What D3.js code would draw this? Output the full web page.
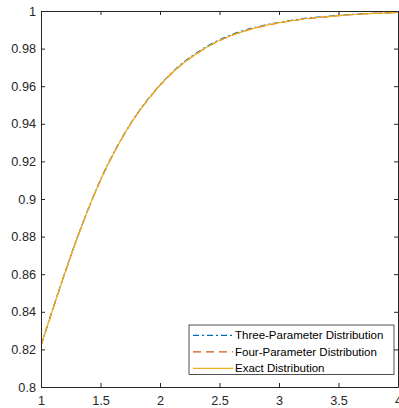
<!DOCTYPE html>
<html>
<head>
<meta charset="utf-8">
<script src="https://cdn.jsdelivr.net/npm/d3@7"></script>
<style>
  html, body { margin: 0; padding: 0; background: #fff; }
  svg { display: block; }
</style>
</head>
<body>
<svg id="chart" width="399" height="408"></svg>
<script>
// ---- data ----
const xValues = [1.0,1.1,1.2,1.3,1.4,1.5,1.6,1.7,1.8,1.9,2.0,2.1,2.2,2.3,2.4,2.5,2.6,2.7,2.8,2.9,3.0,3.1,3.2,3.3,3.4,3.5,3.6,3.7,3.8,3.9,4.0];
const threeParam = [0.8222,0.8417,0.8607,0.8787,0.8952,0.9103,0.9233,0.9347,0.9447,0.9532,0.9607,0.9672,0.9728,0.9774,0.9814,0.9847,0.9874,0.9896,0.9913,0.9928,0.9940,0.9950,0.9959,0.9966,0.9972,0.9977,0.9981,0.9985,0.9988,0.9990,0.9992];
const fourParam  = [0.8219,0.8414,0.8604,0.8784,0.8949,0.9099,0.9229,0.9344,0.9444,0.9529,0.9604,0.9669,0.9724,0.9769,0.9809,0.9842,0.9869,0.9891,0.9909,0.9924,0.9937,0.9947,0.9956,0.9963,0.9969,0.9975,0.9980,0.9984,0.9987,0.9990,0.9992];
const exactDist  = [0.8220,0.8415,0.8605,0.8785,0.8950,0.9100,0.9230,0.9345,0.9445,0.9530,0.9605,0.9670,0.9725,0.9770,0.9810,0.9843,0.9870,0.9892,0.9910,0.9925,0.9938,0.9948,0.9957,0.9964,0.9970,0.9975,0.9980,0.9984,0.9987,0.9990,0.9992];
const seriesNames = ["Three-Parameter Distribution", "Four-Parameter Distribution", "Exact Distribution"];
const xTicks = [1, 1.5, 2, 2.5, 3, 3.5, 4];
const xTickLabels = ["1", "1.5", "2", "2.5", "3", "3.5", "4"];
const yTicks = [0.8, 0.82, 0.84, 0.86, 0.88, 0.9, 0.92, 0.94, 0.96, 0.98, 1];
const yTickLabels = ["0.8", "0.82", "0.84", "0.86", "0.88", "0.9", "0.92", "0.94", "0.96", "0.98", "1"];

// ---- layout ----
const W = 399, H = 408;
const margin = { left: 41, top: 11, right: 1, bottom: 21 };
const iw = W - margin.left - margin.right;
const ih = H - margin.top - margin.bottom;
const axisColor = "#262626";
const font = "'Liberation Sans', Arial, Helvetica, sans-serif";

const svg = d3.select("#chart");
const g = svg.append("g").attr("transform", `translate(${margin.left},${margin.top})`);

const x = d3.scaleLinear().domain([1, 4]).range([0, iw]);
const y = d3.scaleLinear().domain([0.8, 1]).range([ih, 0]);

const series = [
  { name: seriesNames[0], values: threeParam, color: "#0072BD", dash: "6,3,2,3" },
  { name: seriesNames[1], values: fourParam,  color: "#D95319", dash: "8,5" },
  { name: seriesNames[2], values: exactDist,  color: "#EDB120", dash: null }
];

// ---- lines ----
const line = d3.line().x((d, i) => x(xValues[i])).y(d => y(d)).curve(d3.curveMonotoneX);
g.append("defs").append("clipPath").attr("id", "clip")
  .append("rect").attr("x", 0).attr("y", -2).attr("width", iw).attr("height", ih + 2);
const lg = g.append("g").attr("clip-path", "url(#clip)");
series.forEach(s => {
  lg.append("path")
    .attr("d", line(s.values))
    .attr("fill", "none")
    .attr("stroke", s.color)
    .attr("stroke-width", 1.2)
    .attr("stroke-dasharray", s.dash);
});

// ---- axes ----
function styleAxis(sel, showLabels) {
  sel.select(".domain").attr("stroke", axisColor).attr("stroke-width", 1);
  sel.selectAll(".tick line").attr("stroke", axisColor).attr("stroke-width", 1);
  sel.selectAll(".tick text")
    .attr("fill", axisColor)
    .style("font-family", font)
    .style("font-size", "12.7px");
  if (!showLabels) sel.selectAll(".tick text").remove();
}

const xAxisB = d3.axisBottom(x).tickValues(xTicks).tickFormat((d, i) => xTickLabels[i])
  .tickSizeInner(-4).tickSizeOuter(0).tickPadding(9);
const xAxisT = d3.axisTop(x).tickValues(xTicks).tickFormat("")
  .tickSizeInner(-4).tickSizeOuter(0);
const yAxisL = d3.axisLeft(y).tickValues(yTicks).tickFormat((d, i) => yTickLabels[i])
  .tickSizeInner(-4).tickSizeOuter(0).tickPadding(5);
const yAxisR = d3.axisRight(y).tickValues(yTicks).tickFormat("")
  .tickSizeInner(-4).tickSizeOuter(0);

g.append("g").attr("transform", `translate(0,${ih})`).call(xAxisB).call(s => styleAxis(s, true));
g.append("g").call(xAxisT).call(s => styleAxis(s, false));
g.append("g").call(yAxisL).call(s => styleAxis(s, true));
g.append("g").attr("transform", `translate(${iw},0)`).call(yAxisR).call(s => styleAxis(s, false));

// ---- legend ----
const legX = 189 - margin.left, legY = 325 - margin.top, legW = 205, legH = 49.5;
const leg = g.append("g").attr("transform", `translate(${legX},${legY})`);
leg.append("rect").attr("width", legW).attr("height", legH)
  .attr("fill", "#fff").attr("stroke", axisColor).attr("stroke-width", 0.8);
series.forEach((s, i) => {
  const cy = 10.3 + i * 16.5;
  leg.append("line").attr("x1", 4).attr("x2", 44).attr("y1", cy).attr("y2", cy)
    .attr("stroke", s.color).attr("stroke-width", 1.2)
    .attr("stroke-dasharray", s.dash);
  leg.append("text").attr("x", 46).attr("y", cy).attr("dy", "0.35em")
    .attr("fill", "#000")
    .style("font-family", font).style("font-size", "11.5px")
    .text(s.name);
});
</script>
</body>
</html>
